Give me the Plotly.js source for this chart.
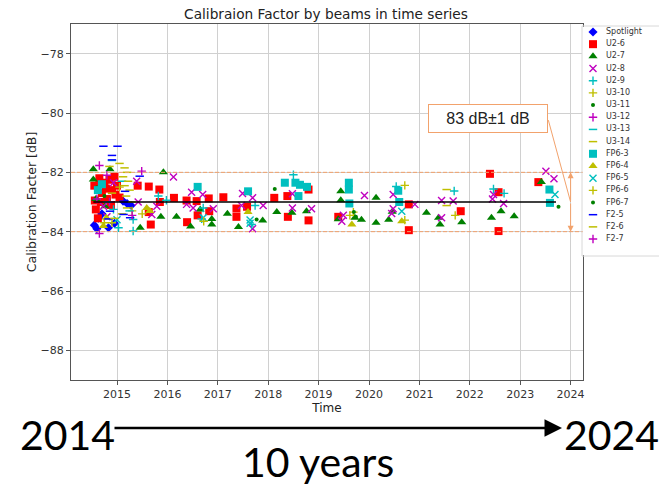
<!DOCTYPE html>
<html><head><meta charset="utf-8">
<script src="https://cdn.plot.ly/plotly-3.0.1.min.js"></script>
<style>html,body{margin:0;padding:0;background:#fff}#chart{width:659px;height:486px}</style>
</head><body><div id="chart"></div>
<script>
// ---------------- data ----------------
const seriesNames = ['Spotlight','U2-6','U2-7','U2-8','U2-9','U3-10','U3-11','U3-12','U3-13','U3-14','FP6-3','FP6-4','FP6-5','FP6-6','FP6-7','F2-5','F2-6','F2-7'];

const xSpotlight = [2014.55, 2014.60, 2014.63, 2014.70, 2014.83, 2014.95, 2015.12, 2015.20, 2015.28];
const ySpotlight = [-83.78, -83.90, -83.55, -83.40, -83.87, -83.72, -82.97, -83.05, -83.12];

const xU2_6 = [2014.55, 2014.56, 2014.58, 2014.62, 2014.65, 2014.70, 2014.75, 2014.80, 2014.85, 2014.88, 2014.90, 2014.95, 2015.00, 2015.05, 2014.68, 2014.78, 2014.97, 2015.41, 2015.63, 2015.84, 2015.85, 2015.63, 2015.67, 2016.13, 2016.38, 2016.58, 2016.82, 2017.11, 2017.37, 2017.58, 2017.37, 2016.39, 2016.60, 2016.83, 2018.12, 2018.38, 2018.39, 2018.80, 2018.80, 2019.39, 2020.79, 2020.79, 2021.82, 2022.40, 2022.57, 2022.57, 2023.36];
const yU2_6 = [-82.45, -82.95, -83.25, -83.55, -82.20, -82.70, -82.35, -82.90, -82.25, -83.10, -82.60, -82.15, -82.45, -82.85, -83.00, -82.55, -82.75, -82.45, -82.48, -82.58, -83.00, -83.34, -83.76, -82.86, -82.95, -82.97, -82.88, -82.84, -83.22, -83.16, -83.50, -83.68, -83.45, -83.31, -82.86, -82.80, -83.50, -83.62, -82.58, -83.50, -83.08, -83.95, -83.31, -82.05, -82.67, -83.98, -82.33];

const xU2_7 = [2014.53, 2014.86, 2014.53, 2014.58, 2014.76, 2015.92, 2015.46, 2015.87, 2016.18, 2016.46, 2016.65, 2016.88, 2016.88, 2017.19, 2017.41, 2017.89, 2018.17, 2018.47, 2018.76, 2019.44, 2019.44, 2019.39, 2019.72, 2019.85, 2020.14, 2020.14, 2020.39, 2020.46, 2021.14, 2021.38, 2021.41, 2021.84, 2022.43, 2022.62, 2022.88, 2023.42];
const yU2_7 = [-81.90, -81.90, -82.24, -82.90, -83.14, -82.00, -83.87, -83.50, -83.50, -83.83, -83.25, -83.57, -83.76, -83.40, -83.84, -83.62, -83.34, -83.36, -83.31, -82.64, -82.94, -83.58, -83.53, -83.60, -82.86, -83.70, -83.60, -83.33, -83.36, -83.53, -83.76, -83.68, -83.53, -83.31, -83.48, -82.33];

const xU2_8 = [2014.73, 2014.93, 2014.80, 2015.39, 2015.42, 2015.69, 2015.79, 2016.12, 2016.48, 2016.70, 2016.38, 2016.51, 2016.91, 2017.49, 2017.69, 2017.90, 2017.47, 2017.69, 2018.48, 2018.48, 2018.86, 2019.91, 2019.49, 2019.46, 2020.48, 2020.48, 2020.45, 2020.91, 2021.44, 2021.67, 2021.44, 2022.47, 2022.45, 2022.67, 2023.51, 2023.67];
const yU2_8 = [-83.14, -82.35, -83.50, -82.30, -83.00, -83.42, -83.14, -82.16, -82.67, -82.75, -83.08, -83.20, -83.23, -82.71, -82.86, -83.12, -83.12, -83.90, -82.72, -83.20, -83.23, -82.78, -83.45, -83.65, -82.75, -83.23, -83.39, -83.08, -82.95, -82.97, -83.53, -82.75, -82.90, -83.05, -81.96, -82.22];

const xU2_9 = [2014.93, 2015.03, 2015.32, 2015.32, 2015.82, 2015.98, 2016.71, 2016.68, 2017.74, 2017.67, 2018.50, 2020.54, 2021.69, 2022.47, 2022.68];
const yU2_9 = [-83.25, -83.87, -83.98, -83.59, -82.80, -82.94, -83.20, -83.57, -83.12, -83.76, -82.08, -82.48, -82.63, -82.56, -82.71];

const xU3_10 = [2015.05, 2015.30, 2014.75, 2019.69, 2020.71, 2021.71];
const yU3_10 = [-82.50, -83.30, -83.70, -83.34, -82.44, -83.45];

const xU3_11 = [2014.60, 2018.13, 2019.70, 2023.76];
const yU3_11 = [-82.50, -82.56, -83.34, -83.16];

const xU3_12 = [2014.65, 2014.65, 2015.49, 2014.85];
const yU3_12 = [-81.77, -84.06, -81.96, -83.00];

const xU3_13 = [2014.90, 2015.10, 2015.25, 2014.80];
const yU3_13 = [-81.60, -82.30, -83.30, -83.00];

const xU3_14 = [2015.05, 2015.15, 2015.20, 2015.12, 2015.22, 2015.15, 2015.25, 2015.18, 2015.30, 2015.20, 2015.10];
const yU3_14 = [-81.70, -81.85, -82.00, -82.15, -82.30, -82.45, -82.60, -82.80, -83.00, -83.20, -83.40];

const xFP6_3 = [2014.70, 2014.62, 2016.60, 2017.60, 2018.33, 2018.54, 2018.63, 2018.77, 2018.60, 2019.60, 2019.60, 2019.61, 2020.58, 2020.60, 2023.58, 2023.59];
const yFP6_3 = [-82.40, -82.60, -82.49, -82.64, -82.35, -82.35, -82.42, -82.49, -82.80, -82.35, -82.58, -83.05, -82.62, -83.00, -82.58, -83.03];

const xFP6_4 = [2014.73, 2014.79, 2015.59, 2015.65, 2017.60, 2019.66, 2020.65];
const yFP6_4 = [-83.81, -83.53, -83.20, -83.30, -83.34, -83.76, -83.65];

const xFP6_5 = [2015.00, 2016.71, 2017.64, 2017.64, 2020.65, 2023.69];
const yFP6_5 = [-83.60, -83.53, -83.61, -83.72, -83.31, -82.75];

const xFP6_6 = [2014.90, 2015.50, 2016.72, 2019.62, 2020.71];
const yFP6_6 = [-83.70, -83.40, -83.65, -83.45, -83.61];

const xFP6_7 = [2014.75, 2017.77, 2019.74];
const yFP6_7 = [-82.80, -83.59, -83.50];

const xF2_5 = [2014.73, 2015.01, 2014.90, 2014.90, 2015.16, 2015.13, 2015.22, 2015.13, 2015.26, 2014.86, 2014.83, 2015.45];
const yF2_5 = [-81.12, -81.12, -81.43, -81.58, -82.64, -82.97, -83.08, -83.42, -83.53, -83.31, -83.57, -82.13];

const xF2_6 = [2014.85, 2014.90, 2014.95, 2021.54, 2021.54];
const yF2_6 = [-81.80, -82.70, -83.55, -82.58, -83.12];

const xF2_7 = [2014.60, 2014.80, 2015.30];
const yF2_7 = [-82.90, -82.10, -83.45];

const meanLineX = [2014.53, 2023.71];
const meanValue = -83;
const toleranceLimits = [-82, -84];
const calloutAnchorYear = 2024;
const calloutText = '83 dB\u00b11 dB';
const yearTicks = [2015, 2016, 2017, 2018, 2019, 2020, 2021, 2022, 2023, 2024];
const valueTicks = [-78, -80, -82, -84, -86, -88];
const spanStartLabel = '2014';
const spanEndLabel = '2024';
const spanLabel = '10 years';

// ---------------- styles ----------------
const C = {b:'#0000ff', r:'#ff0000', g:'#008000', m:'#bf00bf', c:'#00bfbf', y:'#bfbf00'};
const styles = [
  {symbol:'diamond', color:C.b, size:7},
  {symbol:'square', color:C.r, size:8},
  {symbol:'triangle-up', color:C.g, size:8},
  {symbol:'x-thin-open', color:C.m, size:7, lw:1.4},
  {symbol:'cross-thin-open', color:C.c, size:6, lw:1.4},
  {symbol:'cross-thin-open', color:C.y, size:6, lw:1.4},
  {symbol:'circle', color:C.g, size:4},
  {symbol:'cross-thin-open', color:C.m, size:6, lw:1.4},
  {symbol:'line-ew-open', color:C.c, size:6, lw:1.5},
  {symbol:'line-ew-open', color:C.y, size:6, lw:1.5},
  {symbol:'square', color:C.c, size:8},
  {symbol:'triangle-up', color:C.y, size:8},
  {symbol:'x-thin-open', color:C.c, size:7, lw:1.4},
  {symbol:'cross-thin-open', color:C.y, size:6, lw:1.4},
  {symbol:'circle', color:C.g, size:4},
  {symbol:'line-ew-open', color:C.b, size:6, lw:1.5},
  {symbol:'line-ew-open', color:C.y, size:6, lw:1.5},
  {symbol:'cross-thin-open', color:C.m, size:6, lw:1.4}
];
const seriesXY = [
  [xSpotlight, ySpotlight], [xU2_6, yU2_6], [xU2_7, yU2_7], [xU2_8, yU2_8], [xU2_9, yU2_9],
  [xU3_10, yU3_10], [xU3_11, yU3_11], [xU3_12, yU3_12], [xU3_13, yU3_13], [xU3_14, yU3_14],
  [xFP6_3, yFP6_3], [xFP6_4, yFP6_4], [xFP6_5, yFP6_5], [xFP6_6, yFP6_6], [xFP6_7, yFP6_7],
  [xF2_5, yF2_5], [xF2_6, yF2_6], [xF2_7, yF2_7]
];
function mk(s) {
  return {symbol:s.symbol, color:s.color, size:s.size,
          line:{color:s.color, width: s.lw ? s.lw : 0}};
}

const W = 659, H = 486;
const px = v => v / W, py = v => 1 - v / H;

const traces = [];
seriesNames.forEach((name, i) => {
  traces.push({type:'scatter', mode:'markers', name, x:seriesXY[i][0], y:seriesXY[i][1],
    marker:mk(styles[i]), showlegend:false, xaxis:'x', yaxis:'y', cliponaxis:true});
});
traces.push({type:'scatter', mode:'lines', x:meanLineX, y:meanLineX.map(() => meanValue),
  line:{color:'#000', width:1.5}, showlegend:false, hoverinfo:'skip'});

// custom compact legend (matplotlib style)
const legIdx = seriesNames.map((_, i) => i);
seriesNames.forEach((name, i) => {
  traces.push({type:'scatter', mode:'markers', x:[11], y:[i], xaxis:'x2', yaxis:'y2',
    marker:mk(styles[i]), showlegend:false, hoverinfo:'skip'});
});
traces.push({type:'scatter', mode:'text', x:legIdx.map(() => 24), y:legIdx, text:seriesNames,
  textposition:'middle right', textfont:{family:'DejaVu Sans', size:8, color:'#333'},
  xaxis:'x2', yaxis:'y2', showlegend:false, hoverinfo:'skip'});

const orange = '#f2a26c';
const shapes = toleranceLimits.map(v => ({type:'line', xref:'x domain', x0:0, x1:1, yref:'y', y0:v, y1:v,
  line:{color:orange, width:1, dash:'4px,2px'}, layer:'above'}));
shapes.push({type:'rect', xref:'paper', yref:'paper', x0:px(582), x1:px(662), y0:py(256), y1:py(26),
  line:{color:'#d8d8d8', width:1}, fillcolor:'rgba(0,0,0,0)', layer:'above'});

const bigFont = {family:'Lato, sans-serif', size:41, color:'#000'};
const annotations = [
  // vertical double arrow ±1 dB
  {x:calloutAnchorYear, y:toleranceLimits[0], ax:calloutAnchorYear, ay:meanValue, axref:'x', ayref:'y',
   xref:'x', yref:'y', text:'', showarrow:true, arrowhead:2, arrowsize:1.2, arrowwidth:1, arrowcolor:orange},
  {x:calloutAnchorYear, y:toleranceLimits[1], ax:calloutAnchorYear, ay:meanValue, axref:'x', ayref:'y',
   xref:'x', yref:'y', text:'', showarrow:true, arrowhead:2, arrowsize:1.2, arrowwidth:1, arrowcolor:orange},
  // callout leader line
  {x:calloutAnchorYear, y:meanValue, ax:2023.55, ay:-80.19, axref:'x', ayref:'y', xref:'x', yref:'y',
   text:'', showarrow:true, arrowhead:0, arrowwidth:1, arrowcolor:orange},
  // callout box
  {x:2022.36, y:-80.2, xref:'x', yref:'y', text:calloutText, showarrow:false,
   font:{family:'Liberation Sans, Arial, sans-serif', size:16, color:'#222'},
   bordercolor:orange, borderwidth:1, bgcolor:'#fff', borderpad:4, width:110, height:19},
  // bottom timeline
  {xref:'paper', yref:'paper', x:px(562), y:py(428), ax:-449, ay:0, text:'', showarrow:true,
   arrowhead:2, arrowsize:1.4, arrowwidth:2.5, arrowcolor:'#000'},
  {xref:'paper', yref:'paper', x:px(67), y:py(434), text:spanStartLabel, showarrow:false, font:bigFont,
   xanchor:'center', yanchor:'middle'},
  {xref:'paper', yref:'paper', x:px(611), y:py(434), text:spanEndLabel, showarrow:false, font:bigFont,
   xanchor:'center', yanchor:'middle'},
  {xref:'paper', yref:'paper', x:px(318), y:py(461), text:spanLabel, showarrow:false, font:bigFont,
   xanchor:'center', yanchor:'middle'}
];

const tickFont = {family:'DejaVu Sans', size:11, color:'#333'};
const layout = {
  width:W, height:H, margin:{l:0, r:0, t:0, b:0}, paper_bgcolor:'#fff', plot_bgcolor:'#fff',
  showlegend:false,
  title:{text:'Calibraion Factor by beams in time series', x:px(326), xanchor:'center', y:py(14), yanchor:'middle',
    font:{family:'DejaVu Sans', size:13.7, color:'#222'}},
  xaxis:{domain:[px(71), px(583)], range:[2014.087, 2024.246], tickvals:yearTicks, ticktext:yearTicks.map(String),
    showgrid:true, gridcolor:'#d0d0d0', gridwidth:1, zeroline:false,
    showline:true, mirror:true, linecolor:'#555', linewidth:1, ticks:'outside', ticklen:4, tickcolor:'#555',
    tickfont:tickFont, title:{text:'Time', font:{family:'DejaVu Sans', size:12, color:'#222'}, standoff:1}},
  yaxis:{domain:[py(380), py(24)], range:[-89, -77], tickvals:valueTicks, ticktext:valueTicks.map(v => '\u2212' + Math.abs(v)),
    showgrid:true, gridcolor:'#d0d0d0', gridwidth:1, zeroline:false,
    showline:true, mirror:true, linecolor:'#555', linewidth:1, ticks:'outside', ticklen:4, tickcolor:'#555',
    tickfont:tickFont, title:{text:'Calibration Facter [dB]', font:{family:'DejaVu Sans', size:12.5, color:'#222'}, standoff:1}},
  xaxis2:{domain:[px(582), 1], range:[0, 77], visible:false, fixedrange:true, anchor:'y2'},
  yaxis2:{domain:[py(255), py(27)], range:[18.31, -0.41], visible:false, fixedrange:true, anchor:'x2'},
  shapes, annotations
};

Plotly.newPlot('chart', traces, layout, {displayModeBar:false, staticPlot:true});
</script>
</body></html>
